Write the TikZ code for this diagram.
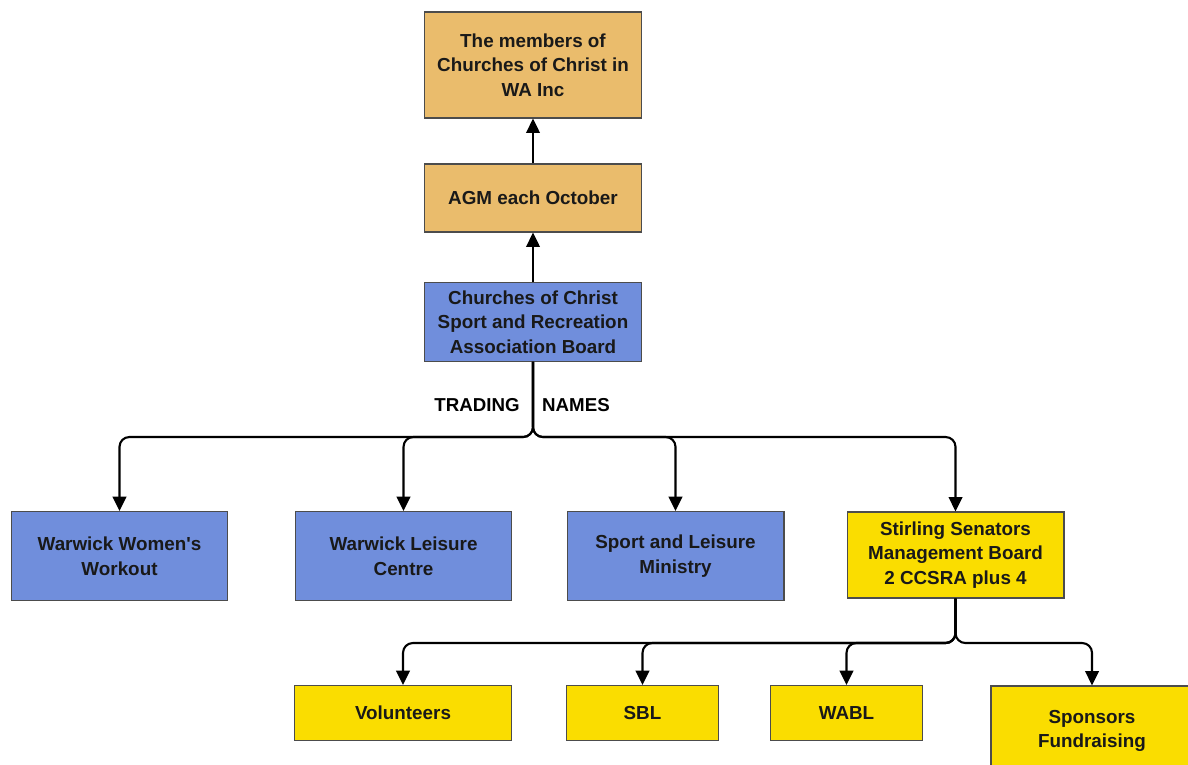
\documentclass[tikz,border=0pt]{standalone}
\usepackage{fontspec}
\setmainfont{Liberation Sans}
\usepackage{tikz}
\usetikzlibrary{arrows.meta, positioning}
\definecolor{orgfill}{RGB}{234,188,108}
\definecolor{bluefill}{RGB}{112,142,220}
\definecolor{yelfill}{RGB}{250,221,0}
\tikzset{
  blk/.style ={rectangle, draw=black!70, line width=0.8pt, minimum width=5.42cm,
               align=center, font=\fontsize{13.4}{17.5}\selectfont\bfseries, text=black!90},
  orgbox/.style ={blk, fill=orgfill},
  bluebox/.style={blk, fill=bluefill},
  yelbox/.style ={blk, fill=yelfill},
  arr/.style ={-{Triangle[length=3.6mm, width=3.4mm]}, line width=1.5pt, rounded corners=7pt},
  lbl/.style ={font=\fontsize{13.3}{15}\selectfont\bfseries}
}

\begin{document}
\begin{tikzpicture}[x=0.025cm, y=-0.025cm]
  \useasboundingbox (0,0) rectangle (1188,764);
  \node[orgbox, minimum height=2.65cm] (members) at (533,65) {The members of\\Churches of Christ in\\WA Inc};
  \node[orgbox, minimum height=1.7cm] (agm) at (533,198) {AGM each October};
  \node[bluebox, minimum height=1.97cm] (board) at (533,322) {Churches of Christ\\Sport and Recreation\\Association Board};
  \node[lbl] (trad) at (477,405) {TRADING};
  \node[lbl] (names) at (576,405) {NAMES};
  \coordinate (tj) at (533,437);
  % trading names
  \node[bluebox, minimum height=2.22cm] (www) at (119.5,556) {Warwick Women\textquotesingle s\\Workout};
  \node[bluebox, minimum height=2.22cm] (wlc) at (403.5,556) {Warwick Leisure\\Centre};
  \node[bluebox, minimum height=2.22cm] (slm) at (675.5,556) {Sport and Leisure\\Ministry};
  \node[yelbox, minimum height=2.15cm] (ssmb) at (955.5,555) {Stirling Senators\\Management Board\\2 CCSRA plus 4};
  \coordinate (sj) at (955.5,643);
  % under stirling
  \node[yelbox, minimum height=1.37cm] (vol) at (403,713) {Volunteers};
  \node[yelbox, minimum height=1.37cm, minimum width=3.78cm] (sbl) at (642.5,713) {SBL};
  \node[yelbox, minimum height=1.37cm, minimum width=3.78cm] (wabl) at (846.5,713) {WABL};
  \node[yelbox, minimum height=2.25cm, minimum width=5.05cm] (spons) at (1092,731) {Sponsors\\Fundraising};
  \draw[arr] (agm) -- (members);
  \draw[arr] (board) -- (agm);
  \draw[arr] (board.south) -- (tj) -| (www.north);
  \draw[arr] (board.south) -- (tj) -| (wlc.north);
  \draw[arr] (board.south) -- (tj) -| (slm.north);
  \draw[arr] (board.south) -- (tj) -| (ssmb.north);
  \draw[arr] (ssmb.south) -- (sj) -| (vol.north);
  \draw[arr] (ssmb.south) -- (sj) -| (sbl.north);
  \draw[arr] (ssmb.south) -- (sj) -| (wabl.north);
  \draw[arr] (ssmb.south) -- (sj) -| (spons.north);
\end{tikzpicture}
\end{document}
